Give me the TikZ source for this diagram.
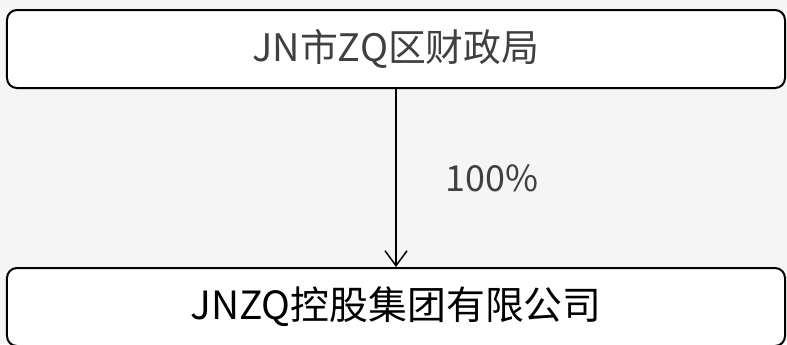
\documentclass[tikz,border=0pt]{standalone}
\usepackage{fontspec}
\setmainfont{Noto Sans CJK SC}
\usetikzlibrary{arrows.meta}
\definecolor{bgcol}{RGB}{245,245,245}
\definecolor{txtgray}{RGB}{64,64,64}
\begin{document}
\begin{tikzpicture}[x=1bp,y=-1bp,>={Straight Barb[length=15bp,width=22bp]},
  unit/.style={draw,line width=2bp,rounded corners=10bp,fill=white,minimum width=778bp,minimum height=78bp,inner sep=0pt},
  share/.style={font=\fontsize{36}{40}\selectfont,text=txtgray}]
\fill[bgcol] (0,0) rectangle (787,344);
\useasboundingbox (0,0) rectangle (787,344);
\node[unit,font=\fontsize{38}{42}\selectfont,text=txtgray] (fin) at (396,49) {JN市ZQ区财政局};
\node[unit,font=\fontsize{39}{42}\selectfont] (grp) at (396,307) {JNZQ控股集团有限公司};
\draw[->,line width=1.5bp] (fin.south)--(grp.north);
\node[share] (pct) at (492,178) {100\%};
\end{tikzpicture}
\end{document}
